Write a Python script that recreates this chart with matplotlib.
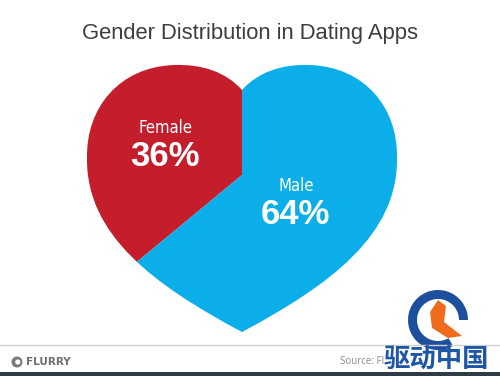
import matplotlib.pyplot as plt
from matplotlib import font_manager
from matplotlib.path import Path
from matplotlib.patches import PathPatch, Wedge, Circle, Rectangle, Polygon

# data
labels = ["Female", "Male"]
shares = [36, 64]
colors = ["#C41E2D", "#0BAEE8"]
title = "Gender Distribution in Dating Apps"
source = "Source: Fl"
watermark = "驱动中国"

W, H = 500, 376


def up(pts):
    # picture coords (y down) -> axes coords (y up)
    return [(x, H - y) for x, y in pts]


# pick a narrow face for the slice labels if one is around
fonts = font_manager.fontManager.ttflist
names = {f.name for f in fonts}
narrow = dict(family="DejaVu Sans")
if "Liberation Sans Narrow" in names:
    narrow = dict(family="Liberation Sans Narrow")
elif any(f.name == "DejaVu Sans" and str(f.stretch) in ("condensed", "semi-condensed") for f in fonts):
    narrow = dict(family="DejaVu Sans", stretch="condensed")

fig = plt.figure(figsize=(5, 3.76), dpi=100)
ax = fig.add_axes([0, 0, 1, 1])

# heart outline used as clip
heart_pts = up([
    (242, 90),
    (258, 72), (282, 64), (310, 65),
    (365, 67), (398, 108), (397, 158),
    (398, 235), (330, 285), (242, 332),
    (154, 285), (86, 235), (87, 158),
    (86, 108), (119, 67), (174, 65),
    (202, 64), (226, 72), (242, 90),
])
codes = [Path.MOVETO] + [Path.CURVE4] * 18
heart = PathPatch(Path(heart_pts, codes), facecolor="none", edgecolor="none")
ax.add_patch(heart)

# pie clipped to the heart
wedges, _ = ax.pie(
    shares,
    colors=colors,
    startangle=90,
    counterclock=True,
    center=(242, H - 175),
    radius=400,
    wedgeprops=dict(linewidth=0),
)
for w in wedges:
    w.set_clip_on(True)
    w.set_clip_path(heart)

ax.set_xlim(0, W)
ax.set_ylim(0, H)
ax.set_aspect("auto")
ax.axis("off")

ax.text(165, H - 128, labels[0], ha="center", va="center",
        fontsize=12, color="white", **narrow)
ax.text(165, H - 156, f"{shares[0]}%", ha="center", va="center",
        fontsize=25, color="white", weight="bold", family="Liberation Sans")
ax.text(296, H - 186, labels[1], ha="center", va="center",
        fontsize=12, color="white", **narrow)
ax.text(295, H - 214, f"{shares[1]}%", ha="center", va="center",
        fontsize=25, color="white", weight="bold", family="Liberation Sans")

# title
ax.text(250, H - 33, title, ha="center", va="center",
        fontsize=15.8, color="#3d3d3d", family="Liberation Sans")

# footer
ax.plot([0, W], [H - 345, H - 345], color="#d0d0d0", lw=1)
ax.add_patch(Rectangle((0, 0), W, 4, color="#2f3b45", lw=0))
ax.add_patch(Circle((17, H - 362), 5.5, fc="#7a7a7a", ec="none"))
ax.add_patch(Circle((17.8, H - 362), 2.6, fc="white", ec="none"))
ax.text(26, H - 362, "FLURRY", ha="left", va="center",
        fontsize=7.5, color="#6e6e6e", weight="bold", family="DejaVu Sans")
ax.text(340, H - 362, source, ha="left", va="center",
        fontsize=7, color="#8a8a8a", family="Open Sans")

# watermark logo
ax.add_patch(Wedge((438, H - 320), 30, 0, 300, width=9, fc="#1d4f9c", ec="none"))
ax.add_patch(Polygon(up([(430, 312), (438, 300), (446, 306), (444, 322),
                         (462, 336), (448, 338), (432, 328)]),
                     fc="#f06a1e", ec="none"))
ax.text(436, H - 360, watermark, ha="center", va="center", fontsize=19,
        color="#1f57a8", weight="bold",
        family=["Noto Sans CJK SC", "DejaVu Sans"])

fig.savefig("out.png", dpi=100)
